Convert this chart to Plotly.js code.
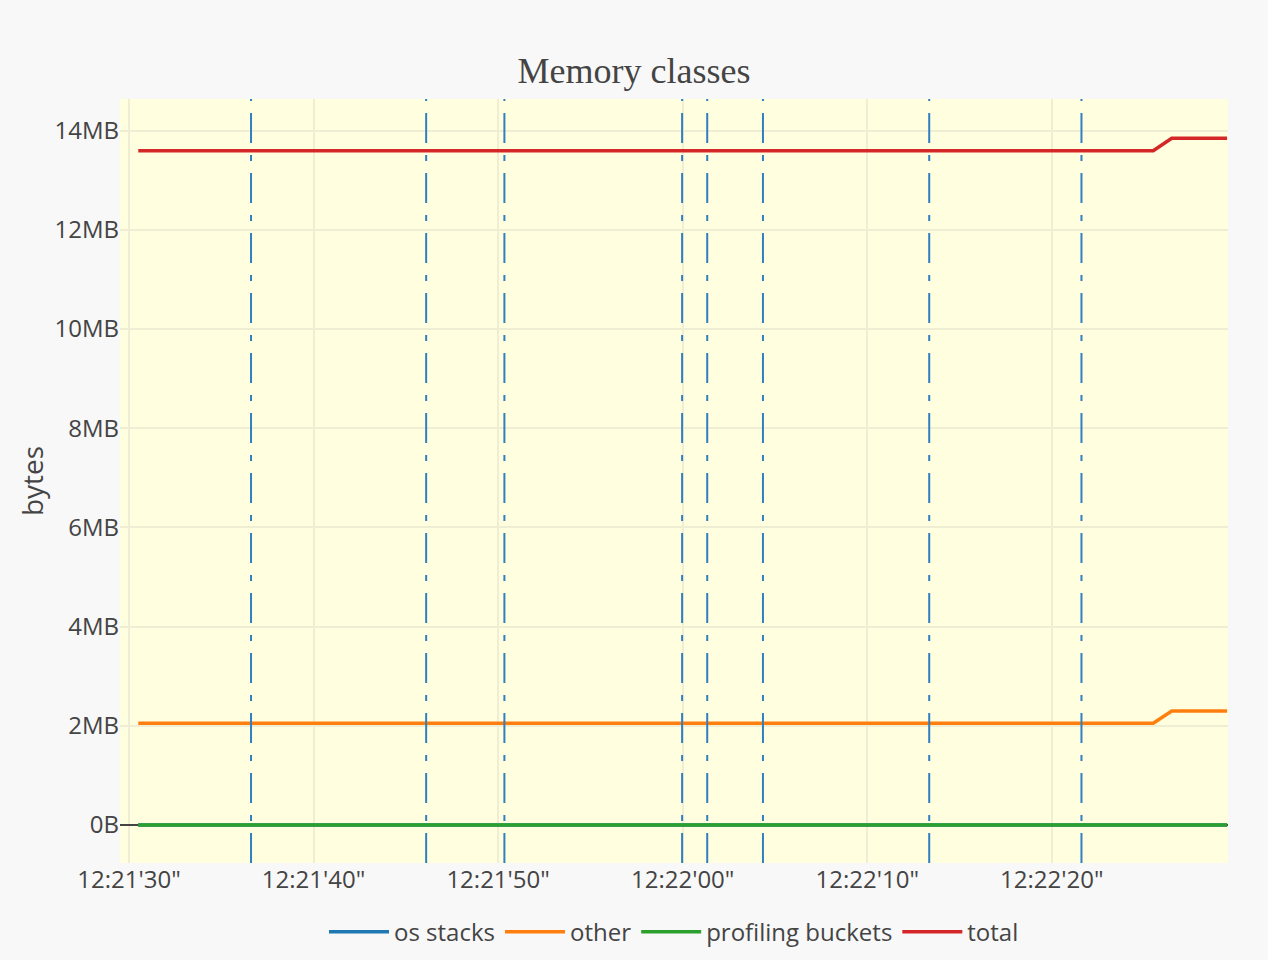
<!DOCTYPE html>
<html>
<head>
<meta charset="utf-8">
<script src="https://cdn.plot.ly/plotly-3.0.1.min.js"></script>
<style>html,body{margin:0;padding:0;background:#f8f8f8;}</style>
</head>
<body>
<div id="chart" style="width:1268px;height:960px;"></div>
<script>
// sample times
const times = ["2024-01-01 12:21:30.5", "2024-01-01 12:22:25.5", "2024-01-01 12:22:26.5", "2024-01-01 12:22:29.5"];
// series values (bytes)
const osStacks = [0, 0, 0, 0];
const other = [2050000, 2050000, 2298000, 2298000];
const profilingBuckets = [0, 0, 0, 0];
const total = [13593000, 13593000, 13845000, 13845000];
// event markers (vertical dash-dot lines)
const eventTimes = ["2024-01-01 12:21:36.61", "2024-01-01 12:21:46.10", "2024-01-01 12:21:50.34",
  "2024-01-01 12:21:59.97", "2024-01-01 12:22:01.33", "2024-01-01 12:22:04.35",
  "2024-01-01 12:22:13.36", "2024-01-01 12:22:21.61"];
const seriesNames = ["os stacks", "other", "profiling buckets", "total"];
const seriesColors = ["#1f77b4", "#ff7f0e", "#2ca02c", "#d62728"];
const seriesValues = [osStacks, other, profilingBuckets, total];

const traces = seriesNames.map((n, i) => ({
  x: times, y: seriesValues[i], name: n, type: "scatter", mode: "lines",
  line: {color: seriesColors[i], width: 3.5}
}));

const shapes = eventTimes.map(t => ({
  type: "line", xref: "x", yref: "paper", x0: t, x1: t, y0: 0, y1: 1,
  line: {color: "#2f7fc1", width: 2, dash: "30px,12px,6px,12px"}
}));

const layout = {
  width: 1268, height: 960,
  paper_bgcolor: "#f8f8f8", plot_bgcolor: "#ffffe0",
  margin: {l: 120, r: 40, t: 99, b: 97, autoexpand: false},
  font: {family: "Open Sans, sans-serif", color: "#444", size: 24},
  title: {text: "Memory classes", font: {family: "Liberation Serif, serif", size: 36, color: "#444"},
          x: 0.5, xanchor: "center", y: 0.927, yanchor: "middle"},
  xaxis: {type: "date", range: ["2024-01-01 12:21:29.51", "2024-01-01 12:22:29.55"],
          tickformat: "%H:%M'%S\"", dtick: 10000, tick0: "2024-01-01 12:21:30",
          gridcolor: "#efeed5", gridwidth: 1.5, showline: false, zeroline: false, tickfont: {size: 24}},
  yaxis: {title: {text: "bytes", font: {size: 28}, standoff: 2}, range: [-766000, 14637000], dtick: 2000000,
          tickformat: "~s", ticksuffix: "B", gridcolor: "#efeed5", gridwidth: 1.5,
          zeroline: true, zerolinecolor: "#444", zerolinewidth: 1.5, showline: false,
          tickfont: {size: 24}},
  legend: {orientation: "h", x: 0.5, xanchor: "center", y: -0.061, yanchor: "top",
           font: {size: 24}, itemwidth: 60, bgcolor: "rgba(0,0,0,0)"},
  shapes: shapes,
  showlegend: true
};

Plotly.newPlot("chart", traces, layout, {displayModeBar: false});
</script>
</body>
</html>
